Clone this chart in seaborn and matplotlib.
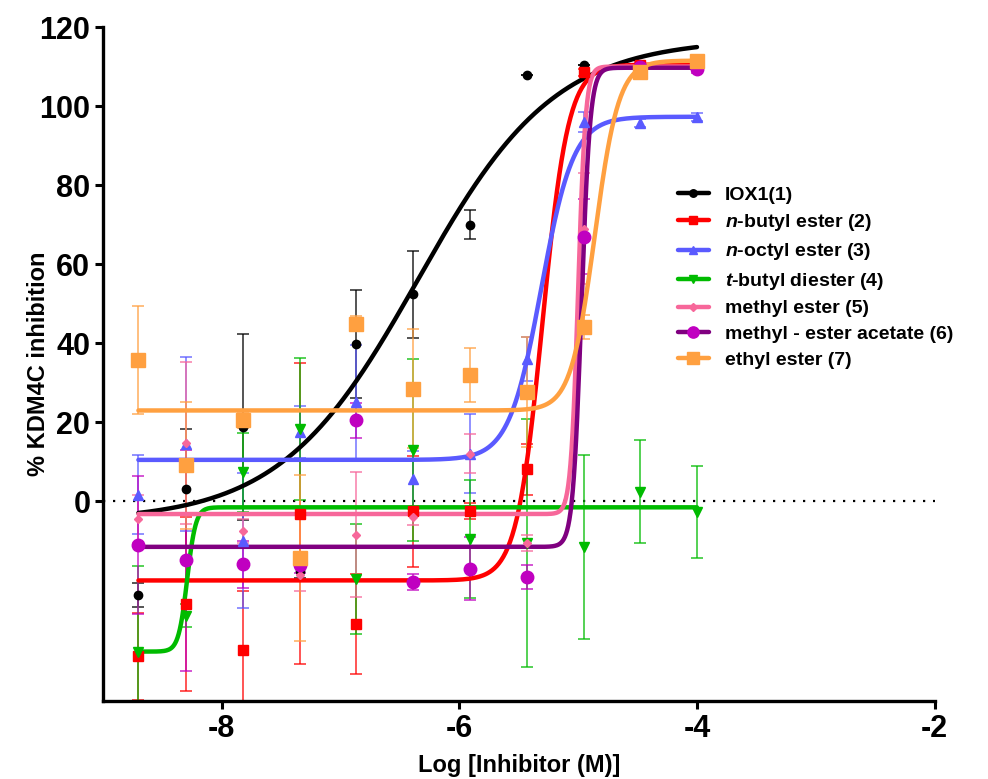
import numpy as np
import pandas as pd
import matplotlib
matplotlib.use("Agg")
import matplotlib.pyplot as plt
import seaborn as sns
from matplotlib.lines import Line2D

# log10 of inhibitor concentration (M)
log_conc = [-8.70, -8.30, -7.82, -7.34, -6.87, -6.39, -5.91, -5.43, -4.95, -4.48, -4.00]

labels = [
    "IOX1(1)",
    "$n$-butyl ester (2)",
    "$n$-octyl ester (3)",
    "$t$-butyl diester (4)",
    "methyl ester (5)",
    "methyl - ester acetate (6)",
    "ethyl ester (7)",
]

# mean % inhibition and SD
iox1 = [-23.6, 3.2, 18.8, -17.5, 39.9, 52.4, 70.0, 107.8, 110.4, 110.5, 111.0]
iox1_sd = [3, 15, 23.6, 2, 13.7, 11, 3.6, 0, 0, 0, 0]
nbutyl = [-39.2, -25.9, -37.7, -3.1, -31.0, -2.5, -2.5, 8.1, 108.5, 110.5, 110.5]
nbutyl_sd = [11, 22, 15, 38, 12.6, 14, 2, 6.5, 1, 1, 1]
noctyl = [1.7, 14.5, -9.9, 17.6, 25.1, 5.7, 12.0, 36.1, 95.9, 95.7, 97.2]
noctyl_sd = [10, 22, 17, 6.5, 14.5, 7, 10, 5.6, 2.5, 1, 1]
tbutyl = [-38.1, -28.9, 7.4, 18.4, -19.6, 12.9, -9.5, -10.5, -11.6, 2.5, -2.7]
tbutyl_sd = [21.7, 3, 10, 18, 14, 23, 15, 31.4, 23.3, 13, 11.7]
methyl = [-4.4, 14.8, -7.4, -18.6, -8.4, -4.0, 12.1, -10.5, 69.0, 110.0, 110.0]
methyl_sd = [6, 20.5, 3, 4, 15.8, 2, 4.9, 2, 14, 1, 1]
acetate = [-11.0, -14.9, -15.9, -16.2, 20.5, -20.3, -17.0, -19.2, 67.0, 110.0, 109.4]
acetate_sd = [17.4, 28, 6, 2, 4.5, 2, 8, 3, 9.5, 1, 1]
ethyl = [35.7, 9.1, 20.5, -14.3, 45.0, 28.5, 31.9, 27.7, 44.2, 108.5, 111.5]
ethyl_sd = [13.7, 16, 2, 21, 2, 15, 6.8, 14, 3, 1, 1]

# four-parameter dose-response fits: bottom, top, logIC50, hill slope
fit_bottom = [-5.0, -20.0, 10.5, -38.0, -3.2, -11.5, 23.0]
fit_top = [117.0, 110.5, 97.3, -1.5, 110.0, 109.7, 111.5]
fit_logec50 = [-6.35, -5.30, -5.31, -8.29, -5.00, -4.972, -4.86]
fit_hill = [0.75, 4.0, 3.2, 12.0, 14.0, 12.0, 4.3]

means = [iox1, nbutyl, noctyl, tbutyl, methyl, acetate, ethyl]
sds = [iox1_sd, nbutyl_sd, noctyl_sd, tbutyl_sd, methyl_sd, acetate_sd, ethyl_sd]

line_colors = ["#000000", "#ff0000", "#5a5aff", "#00bb00", "#f7679a", "#800080", "#ffa040"]
marker_colors = ["#000000", "#ff0000", "#5a5aff", "#00bb00", "#f7679a", "#c000c0", "#ffa040"]
markers = ["o", "s", "^", "v", "D", "o", "s"]
msizes = [6, 6.5, 6.5, 7, 4.5, 9, 9.5]

sns.set_style("ticks")
plt.rcParams["font.family"] = ["Liberation Sans", "DejaVu Sans"]
plt.rcParams["font.weight"] = "bold"
plt.rcParams["text.color"] = "black"
plt.rcParams["xtick.color"] = "black"
plt.rcParams["ytick.color"] = "black"
plt.rcParams["axes.labelcolor"] = "black"
plt.rcParams["axes.edgecolor"] = "black"
plt.rcParams["axes.unicode_minus"] = False
plt.rcParams["mathtext.fontset"] = "custom"
plt.rcParams["mathtext.it"] = "Liberation Sans:bold:italic"
plt.rcParams["mathtext.rm"] = "Liberation Sans:bold"

fig = plt.figure(figsize=(9.88, 7.79), dpi=100)
ax = fig.add_axes([0.104, 0.1001, 0.842, 0.8652])

# fitted curves
xfit = np.linspace(log_conc[0], log_conc[-1], 500)
rows = []
for i, lab in enumerate(labels):
    yfit = fit_bottom[i] + (fit_top[i] - fit_bottom[i]) / (
        1 + 10 ** ((fit_logec50[i] - xfit) * fit_hill[i]))
    rows.append(pd.DataFrame({"x": xfit, "y": yfit, "series": lab}))
curves = pd.concat(rows, ignore_index=True)

ax.axhline(0, color="black", ls=(0, (1, 3.5)), lw=1.6, zorder=1)

for i, lab in enumerate(labels):
    ax.errorbar(log_conc, means[i], yerr=sds[i], fmt="none", ecolor=marker_colors[i],
                elinewidth=1.1, capsize=4.5, capthick=1.1, alpha=0.85, zorder=2)

sns.lineplot(data=curves, x="x", y="y", hue="series", palette=line_colors,
             hue_order=labels, lw=3.2, legend=False, ax=ax, zorder=3)

for i, lab in enumerate(labels):
    ax.plot(log_conc, means[i], ls="none", marker=markers[i], ms=msizes[i],
            color=marker_colors[i], mec=marker_colors[i], zorder=4)

ax.set_xlim(-9, -2)
ax.set_ylim(-50.5, 120)
ax.set_xticks([-8, -6, -4, -2])
ax.set_yticks([0, 20, 40, 60, 80, 100, 120])
ax.tick_params(axis="both", labelsize=22, width=2.2, length=6, pad=3)
for t in ax.get_xticklabels() + ax.get_yticklabels():
    t.set_fontweight("bold")
sns.despine(ax=ax)
ax.spines["left"].set_linewidth(2.4)
ax.spines["bottom"].set_linewidth(2.4)

ax.set_xlabel("Log [Inhibitor (M)]", fontsize=17, fontweight="bold", va="center")
ax.set_ylabel("% KDM4C inhibition", fontsize=17, fontweight="bold", va="center")
ax.xaxis.set_label_coords(0.5, -0.096)
ax.yaxis.set_label_coords(-0.077, 0.5)

handles = [Line2D([0], [0], color=line_colors[i], lw=3.2, marker=markers[i],
                  ms=msizes[i] * 0.9, mfc=marker_colors[i], mec=marker_colors[i])
           for i in range(len(labels))]
ax.legend(handles, labels, loc="upper left", bbox_to_anchor=(0.682, 0.775), frameon=False,
          prop={"size": 14, "weight": "bold"}, handlelength=1.6, labelspacing=0.42,
          handletextpad=0.8, borderaxespad=0)

fig.savefig("out.png", dpi=100)
